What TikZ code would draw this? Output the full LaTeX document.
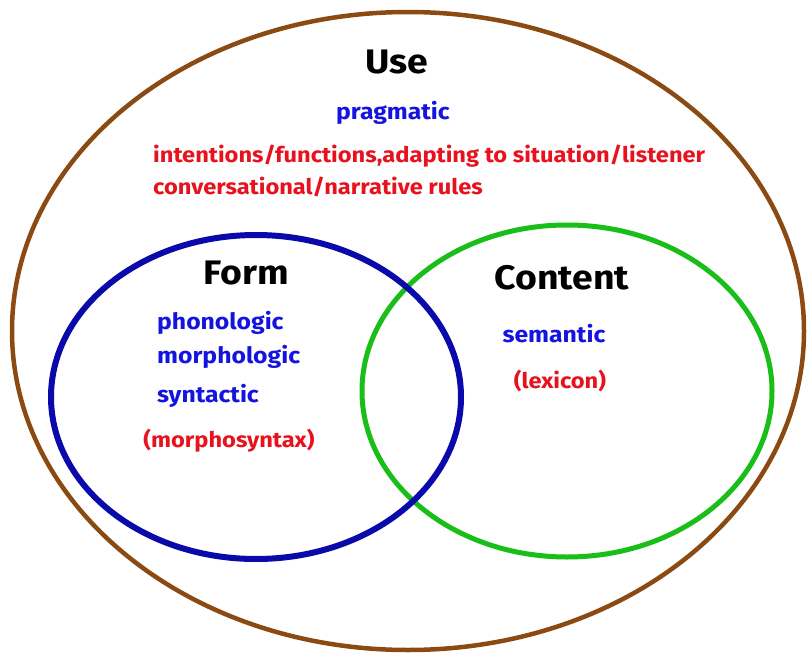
\documentclass[tikz,border=0pt]{standalone}
\usepackage{fontspec}
\setmainfont{Fira Sans}[FakeStretch=1.1]
\usetikzlibrary{positioning}
\definecolor{usebrown}{RGB}{139,74,18}
\definecolor{formblue}{RGB}{10,10,170}
\definecolor{contentgreen}{RGB}{25,190,25}
\definecolor{textblue}{RGB}{20,20,225}
\definecolor{textred}{RGB}{232,18,30}
\begin{document}
\begin{tikzpicture}[x=1pt,y=-1pt,
  titlestyle/.style={font=\fontsize{34}{36}\selectfont\bfseries,text=black,inner sep=0},
  bluestyle/.style={font=\fontsize{22.5}{24}\selectfont\bfseries,text=textblue,inner sep=0},
  redstyle/.style={font=\fontsize{21.5}{23}\selectfont\bfseries,text=textred,inner sep=0}]
  \useasboundingbox (0,0) rectangle (809,656);
  \fill[white] (0,0) rectangle (809,656);

  % the three rings
  \draw[usebrown,line width=4.5] (408,331) ellipse [x radius=396,y radius=319];
  \draw[contentgreen,line width=5] (567,391) ellipse [x radius=205,y radius=166];
  \draw[formblue,line width=6] (256,397) ellipse [x radius=205,y radius=162];

  % use
  \node [titlestyle] (use) at (397,62) {Use};
  \node [bluestyle] (pragmatic) at (393,113) {pragmatic};
  \node [redstyle,anchor=west] (intentions) at (153,156) {intentions/functions,adapting to situation/listener};
  \node [redstyle,anchor=west] (rules) at (153,187) {conversational/narrative rules};

  % form
  \node [titlestyle] (form) at (246,273) {Form};
  \node [bluestyle,anchor=west] (phonologic) at (157,323) {phonologic};
  \node [bluestyle,anchor=west] (morphologic) at (157,357) {morphologic};
  \node [bluestyle,anchor=west] (syntactic) at (157,396) {syntactic};
  \node [redstyle] (morphosyntax) at (229,441) {(morphosyntax)};

  % content
  \node [titlestyle] (content) at (562,278) {Content};
  \node [bluestyle] (semantic) at (554,334) {semantic};
  \node [redstyle] (lexicon) at (560,381) {(lexicon)};
\end{tikzpicture}
\end{document}
